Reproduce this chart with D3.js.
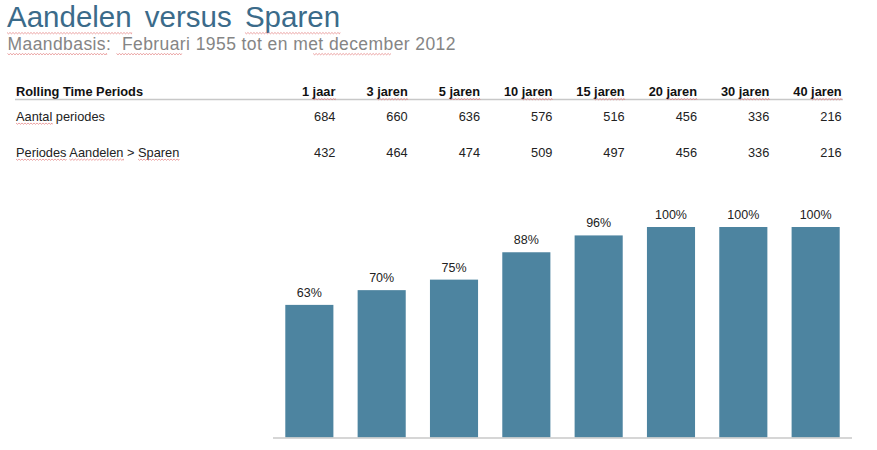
<!DOCTYPE html>
<html><head><meta charset="utf-8">
<script src="https://cdn.jsdelivr.net/npm/d3@7"></script>
<style>body{margin:0;background:#fff;} svg{display:block;font-family:"Liberation Sans",Arial,sans-serif;}</style>
</head><body>
<svg id="c" width="877" height="450"></svg>
<script>
const title = "Aandelen versus Sparen";
const subtitle = "Maandbasis:  Februari 1955 tot en met december 2012";
const rowHeader = "Rolling Time Periods";
const periods = ["1 jaar","3 jaren","5 jaren","10 jaren","15 jaren","20 jaren","30 jaren","40 jaren"];
const rowLabels = ["Aantal periodes","Periodes Aandelen > Sparen"];
const aantalPeriodes = [684,660,636,576,516,456,336,216];
const periodesAandelen = [432,464,474,509,497,456,336,216];
const pctLabels = [63,70,75,88,96,100,100,100];

const svg = d3.select("#c");
const x = d3.scaleBand().domain(periods).range([273,852]).paddingInner(0.335).paddingOuter(0.17);
const y = d3.scaleLinear().domain([0,100]).range([437.5,227]);

function squiggle(sel, words){
  const node = sel.node();
  const txt = node.textContent;
  const bb = node.getBBox();
  words.forEach(w=>{
    const i = txt.indexOf(w);
    if(i<0) return;
    const sx = bb.x + (i>0?node.getSubStringLength(0,i):0);
    const wd = node.getSubStringLength(i,w.length);
    const yy = bb.y + bb.height - 0.5;
    let d = "M"+sx+","+yy;
    for(let k=0, px=sx; px<sx+wd; k++){ px+=1.5; d+=" L"+Math.min(px,sx+wd)+","+(yy+(k%2?0:1.3)); }
    svg.append("path").attr("d",d).attr("fill","none").attr("stroke","#e07070").attr("stroke-width",0.8).attr("opacity",0.8);
  });
}

const t = svg.append("text").attr("x",7).attr("y",27).attr("font-size",29.5).attr("fill","#3b6b8a")
  .attr("word-spacing",5).style("white-space","pre").text(title);
squiggle(t,["Aandelen","Sparen"]);
const st = svg.append("text").attr("x",7.5).attr("y",50).attr("font-size",17.5).attr("fill","#858585")
  .attr("textLength",448).attr("lengthAdjust","spacing").style("white-space","pre").text(subtitle);
squiggle(st,["Maandbasis:","Februari","december"]);

const FS = 12.8;
const hdr = svg.append("text").attr("x",16).attr("y",96).attr("font-size",FS).attr("font-weight","bold").attr("fill","#111").text(rowHeader);
svg.append("line").attr("x1",15).attr("x2",843).attr("y1",99.5).attr("y2",99.5).attr("stroke","#c8c8c8").attr("stroke-width",1.5);
periods.forEach(p=>{
  const tt = svg.append("text").attr("x",x(p)+x.bandwidth()+2).attr("y",96).attr("text-anchor","end").attr("font-size",FS).attr("font-weight","bold").attr("fill","#111").text(p);
  squiggle(tt,[p.split(" ")[1]]);
});
const r1 = svg.append("text").attr("x",16).attr("y",120.5).attr("font-size",FS).attr("fill","#222").text(rowLabels[0]);
squiggle(r1,["Aantal"]);
const r2 = svg.append("text").attr("x",16).attr("y",156.5).attr("font-size",FS).attr("fill","#222").text(rowLabels[1]);
squiggle(r2,["Periodes","Aandelen","Sparen"]);
svg.append("g").selectAll("text").data(aantalPeriodes).join("text")
  .attr("x",(d,i)=>x(periods[i])+x.bandwidth()+2).attr("y",120.5).attr("text-anchor","end").attr("font-size",FS).attr("fill","#222").text(d=>d);
svg.append("g").selectAll("text").data(periodesAandelen).join("text")
  .attr("x",(d,i)=>x(periods[i])+x.bandwidth()+2).attr("y",156.5).attr("text-anchor","end").attr("font-size",FS).attr("fill","#222").text(d=>d);

svg.append("g").selectAll("rect").data(pctLabels).join("rect")
  .attr("x",(d,i)=>x(periods[i])).attr("width",x.bandwidth())
  .attr("y",d=>y(d)).attr("height",d=>y(0)-y(d)).attr("fill","#4d84a0");
svg.append("g").selectAll("text").data(pctLabels).join("text")
  .attr("x",(d,i)=>x(periods[i])+x.bandwidth()/2).attr("y",d=>y(d)-8)
  .attr("text-anchor","middle").attr("font-size",12.5).attr("fill","#222").text(d=>d+"%");
svg.append("line").attr("x1",273).attr("x2",852).attr("y1",y(0)+0.5).attr("y2",y(0)+0.5).attr("stroke","#c8c8c8").attr("stroke-width",1.5);
</script>
</body></html>
